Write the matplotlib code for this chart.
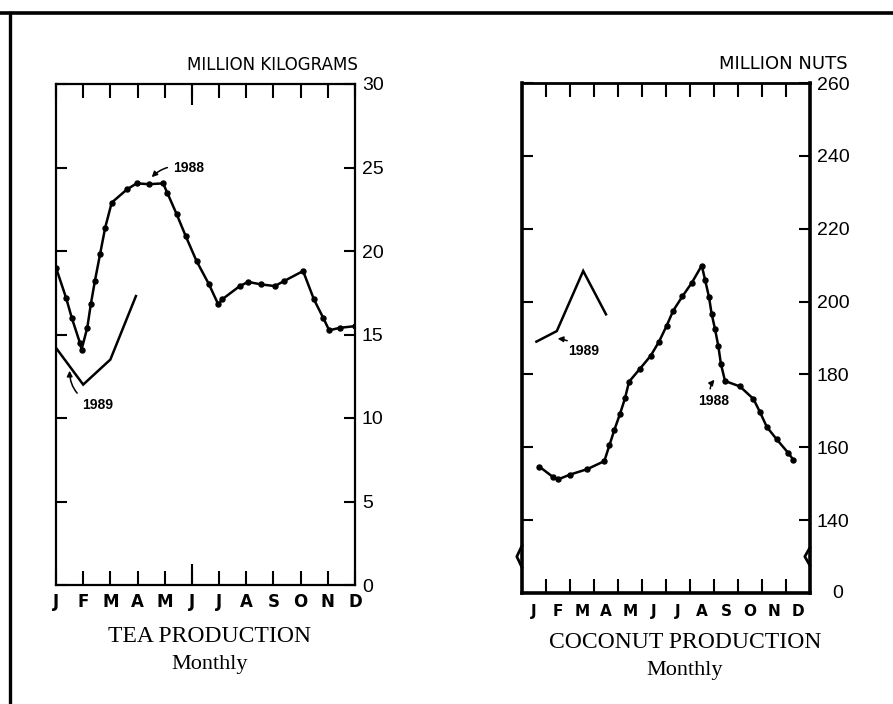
import matplotlib
matplotlib.use('Agg')
import matplotlib.pyplot as plt
from matplotlib.lines import Line2D
from matplotlib.ticker import FixedLocator

W, H = 893, 704
SANS = ['Liberation Sans', 'DejaVu Sans']
HEAD = ['DejaVu Sans']
SERIF = ['Liberation Serif', 'DejaVu Serif']

months = ['J', 'F', 'M', 'A', 'M', 'J', 'J', 'A', 'S', 'O', 'N', 'D']

# Tea production (million kg), x = month position (J = 0)
tea_1988_x = [0.0, 0.37, 0.58, 0.88, 0.94, 1.15, 1.28, 1.43, 1.62, 1.81, 2.05,
              2.62, 2.97, 3.42, 3.94, 4.09, 4.44, 4.77, 5.17, 5.63, 5.97, 6.11,
              6.76, 7.07, 7.54, 8.05, 8.39, 9.09, 9.49, 9.83, 10.05, 10.44, 11.0]
tea_1988_y = [19.0, 17.2, 16.0, 14.5, 14.1, 15.4, 16.8, 18.2, 19.8, 21.4, 22.9,
              23.7, 24.05, 24.0, 24.05, 23.5, 22.2, 20.9, 19.4, 18.0, 16.8, 17.1,
              17.9, 18.15, 18.0, 17.9, 18.2, 18.8, 17.1, 16.0, 15.25, 15.4, 15.5]
tea_1989_x = [0.0, 1.0, 2.0, 2.94]
tea_1989_y = [14.2, 12.0, 13.5, 17.3]
tea_yticks = [0, 5, 10, 15, 20, 25, 30]

# Coconut production (million nuts), x = month position (J = 0)
coco_1988_x = [0.22, 0.80, 1.01, 1.5, 2.22, 2.93, 3.14, 3.35, 3.58, 3.79, 3.96,
               4.42, 4.86, 5.21, 5.53, 5.80, 6.18, 6.57, 6.99, 7.13, 7.29, 7.40,
               7.54, 7.68, 7.79, 7.96, 8.58, 9.14, 9.42, 9.70, 10.11, 10.60, 10.80]
coco_1988_y = [154.7, 151.8, 151.2, 152.5, 154.0, 156.2, 160.5, 164.8, 169.1,
               173.4, 178.0, 181.6, 185.1, 189.0, 193.4, 197.5, 201.4, 205.1,
               209.9, 205.9, 201.3, 196.7, 192.5, 187.8, 182.8, 178.2, 176.7,
               173.3, 169.6, 165.6, 162.2, 158.4, 156.6]
coco_1989_x = [0.1, 0.95, 2.05, 3.0]
coco_1989_y = [189.0, 191.9, 208.4, 196.5]
coco_yticks = [140, 160, 180, 200, 220, 240, 260]


def fx(px):
    return px / W


def fy(py):
    return 1 - py / H


fig = plt.figure(figsize=(W / 100, H / 100), dpi=100)
fig.patch.set_facecolor('white')

# page frame (top rule and left rule)
fig.add_artist(Line2D([0, 1], [fy(13), fy(13)], color='black', lw=2.6))
fig.add_artist(Line2D([fx(10), fx(10)], [fy(13), 0], color='black', lw=2.4))

line_kw = dict(color='black', lw=1.8, solid_joinstyle='miter')
arrow_kw = dict(arrowstyle='-|>', color='black', lw=1.1, mutation_scale=8)
year_kw = dict(fontfamily=SANS, fontsize=10, fontweight='bold')

# ---------------- TEA ----------------
ax1 = fig.add_axes([fx(56), fy(585), fx(355) - fx(56), fy(84) - fy(585)])
ax1.plot(tea_1988_x, tea_1988_y, marker='o', ms=3.6, **line_kw)
ax1.plot(tea_1989_x, tea_1989_y, **line_kw)
ax1.set_xlim(0, 11)
ax1.set_ylim(0, 30)
ax1.set_xticks(range(12))
ax1.set_xticklabels(months, fontfamily=HEAD, fontsize=12, fontweight='bold')
ax1.xaxis.set_minor_locator(FixedLocator([5]))
ax1.xaxis.remove_overlapping_locs = False
ax1.set_yticks(tea_yticks)
ax1.set_yticklabels([str(v) for v in tea_yticks], fontfamily=SANS, fontsize=14)
ax1.tick_params(axis='x', which='major', direction='in', length=10, width=1.5,
                top=True, bottom=True, pad=6)
ax1.tick_params(axis='x', which='minor', direction='in', length=15, width=1.5,
                top=True, bottom=True)
ax1.tick_params(axis='y', direction='in', length=8, width=1.5, left=True,
                right=True, labelleft=False, labelright=True, pad=5)
for s in ax1.spines.values():
    s.set_linewidth(1.6)

fig.text(fx(358), fy(65), 'MILLION KILOGRAMS', ha='right', va='center',
         fontfamily=HEAD, fontsize=12)

ax1.annotate('1988', xy=(3.45, 24.3), xytext=(4.3, 25.0), ha='left', va='center',
             arrowprops=dict(connectionstyle='arc3,rad=0.3', **arrow_kw), **year_kw)
ax1.annotate('1989', xy=(0.5, 13.0), xytext=(0.95, 10.8), ha='left', va='center',
             arrowprops=dict(connectionstyle='arc3,rad=-0.4', **arrow_kw), **year_kw)

fig.text(fx(210), fy(636), 'TEA PRODUCTION', ha='center', va='center',
         fontfamily=SERIF, fontsize=17)
fig.text(fx(210), fy(664), 'Monthly', ha='center', va='center',
         fontfamily=SERIF, fontsize=16)

# ---------------- COCONUT ----------------
ax2 = fig.add_axes([fx(522), fy(593), fx(810) - fx(522), fy(83) - fy(593)])
ax2.plot(coco_1988_x, coco_1988_y, marker='o', ms=3.6, **line_kw)
ax2.plot(coco_1989_x, coco_1989_y, **line_kw)
ax2.set_xlim(-0.5, 11.5)
ax2.set_ylim(120, 260)
ax2.set_xticks(range(12))
ax2.set_xticklabels(months, fontfamily=HEAD, fontsize=11, fontweight='bold')
ax2.xaxis.set_minor_locator(FixedLocator([i + 0.5 for i in range(11)]))
ax2.set_yticks(coco_yticks)
ax2.set_yticklabels([str(v) for v in coco_yticks], fontfamily=SANS, fontsize=14)
ax2.tick_params(axis='x', which='major', length=0, pad=8)
ax2.tick_params(axis='x', which='minor', direction='in', length=10, width=1.5,
                top=True, bottom=True)
ax2.tick_params(axis='y', direction='in', length=8, width=1.5, left=True,
                right=True, labelleft=False, labelright=True, pad=5)
for s in ax2.spines.values():
    s.set_linewidth(2.6)
ax2.spines['top'].set_linewidth(2.0)

# the broken-scale zero
ax2.annotate('0', xy=(1, 120), xycoords=ax2.get_yaxis_transform(),
             xytext=(16, 0), textcoords='offset points', ha='left', va='center',
             fontfamily=SANS, fontsize=14)
# scale-break kinks on both vertical axes
brk = ax2.get_yaxis_transform()
ax2.plot([0, -0.018, 0], [127, 130, 133], color='black', lw=2.0,
         transform=brk, clip_on=False)
ax2.plot([1, 0.982, 1], [127.5, 130, 132.5], color='black', lw=2.0,
         transform=brk, clip_on=False)

fig.text(fx(848), fy(64), 'MILLION NUTS', ha='right', va='center',
         fontfamily=HEAD, fontsize=13)

ax2.annotate('1988', xy=(7.6, 179.1), xytext=(6.83, 172.6), ha='left', va='center',
             arrowprops=dict(connectionstyle='arc3,rad=-0.4', **arrow_kw), **year_kw)
ax2.annotate('1989', xy=(0.87, 189.9), xytext=(1.42, 186.3), ha='left', va='center',
             arrowprops=dict(connectionstyle='arc3,rad=0.2', **arrow_kw), **year_kw)

fig.text(fx(685), fy(642), 'COCONUT PRODUCTION', ha='center', va='center',
         fontfamily=SERIF, fontsize=17)
fig.text(fx(685), fy(670), 'Monthly', ha='center', va='center',
         fontfamily=SERIF, fontsize=16)

fig.savefig('out.png', dpi=100, facecolor='white')
